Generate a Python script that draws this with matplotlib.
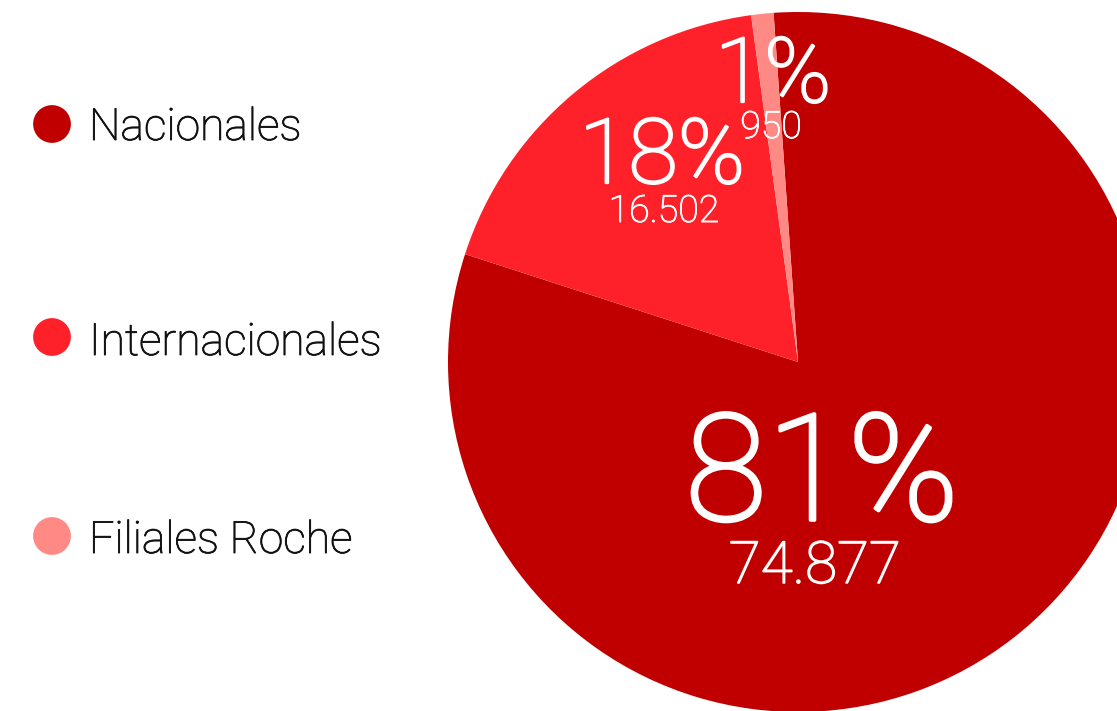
import matplotlib
matplotlib.use('Agg')
import matplotlib.pyplot as plt
import matplotlib.patheffects as pe

# distribution by origin
labels = ['Nacionales', 'Internacionales', 'Filiales Roche']
values = [74877, 16502, 950]
colors = ['#C00000', '#FF2129', '#FF8985']

total = sum(values)
pcts = [round(v * 100 / total) for v in values]
val_txt = ['{:,}'.format(v).replace(',', '.') for v in values]

W, H = 1117, 711
fig = plt.figure(figsize=(W / 100, H / 100), dpi=100)

def fpos(px, py):
    # pixel position (from top-left) -> figure fraction
    return px / W, 1 - py / H

# pie, centred at (798, 362) px with radius 350 px, clipped by the figure
cx, cy, r = 798, 362, 350
ax = fig.add_axes([(cx - r) / W, (H - cy - r) / H, 2 * r / W, 2 * r / H])
ax.pie(values, colors=colors, startangle=94, counterclock=False,
       wedgeprops=dict(linewidth=0))
ax.set_xlim(-1, 1)
ax.set_ylim(-1, 1)
ax.axis('off')

# percentage and value labels inside the wedges
num_font = dict(family=['Roboto', 'DejaVu Sans'], weight='light', color='white',
                ha='center', va='baseline')
big = [(822, 520, 107), (662, 183, 65), (773, 102, 65)]
small = [(815, 583, 42), (664, 222, 27), (771, 138, 27)]
for i in range(len(values)):
    x, y, s = big[i]
    fig.text(*fpos(x, y), '%d%%' % pcts[i], fontsize=s, **num_font,
             path_effects=[pe.withStroke(linewidth=s / 40, foreground='white')])
    x, y, s = small[i]
    fig.text(*fpos(x, y), val_txt[i], fontsize=s, **num_font,
             path_effects=[pe.withStroke(linewidth=s / 40, foreground='white')])

# legend on the left: dots and names
leg_y = [124, 337, 536]
leg_base = [140, 355, 553]
lax = fig.add_axes([0, 0, 1, 1], facecolor='none')
lax.set_xlim(0, W)
lax.set_ylim(H, 0)
lax.axis('off')
lax.scatter([52] * len(labels), leg_y, s=740, c=colors, linewidths=0)
for i in range(len(labels)):
    lax.text(89, leg_base[i], labels[i], fontsize=32, weight='light',
             family=['Roboto', 'DejaVu Sans'], color='#111111',
             ha='left', va='baseline',
             path_effects=[pe.withStroke(linewidth=0.6, foreground='#111111')])

fig.savefig('out.png', dpi=100)
